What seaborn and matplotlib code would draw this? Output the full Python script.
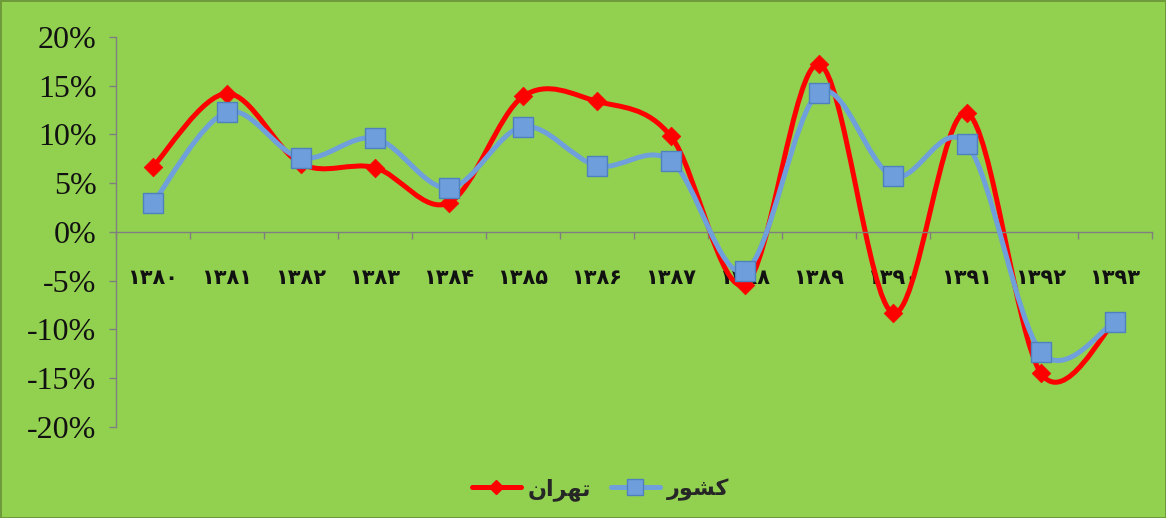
import numpy as np
import pandas as pd
import matplotlib
matplotlib.use('Agg')
import matplotlib.pyplot as plt
import seaborn as sns
from matplotlib.path import Path
from matplotlib.patches import PathPatch
from matplotlib.lines import Line2D
from matplotlib.ticker import FuncFormatter, FixedLocator

# Persian year labels and growth values (percent)
years = ['۱۳۸۰', '۱۳۸۱', '۱۳۸۲', '۱۳۸۳', '۱۳۸۴', '۱۳۸۵', '۱۳۸۶',
         '۱۳۸۷', '۱۳۸۸', '۱۳۸۹', '۱۳۹۰', '۱۳۹۱', '۱۳۹۲', '۱۳۹۳']
tehran = [6.7, 14.2, 7.0, 6.6, 3.0, 13.9, 13.4, 9.8, -5.4, 17.2, -8.3, 12.2, -14.5, -9.2]
keshvar = [3.0, 12.3, 7.6, 9.6, 4.5, 10.8, 6.8, 7.3, -4.0, 14.3, 5.7, 9.0, -12.3, -9.2]

# legend labels, shaped by hand (matplotlib does no Arabic shaping / bidi)
label_tehran = '\uFEE5\uFE8D\uFEAE\uFEEC\uFE97'   # تهران
label_keshvar = '\uFEAD\uFEEE\uFEB8\uFB90'        # کشور

df = pd.DataFrame({'pos': np.arange(len(years)), 'tehran': tehran, 'keshvar': keshvar})

bg = '#92D050'
red = '#FF0000'
blue_line = '#6FA0DB'
blue_face = '#6E9EDB'
blue_edge = '#4F81BD'
axis_gray = '#7F7F7F'


def smooth_path(x, y):
    # Excel-like smoothed line: cubic bezier with catmull-rom control points
    pts = np.column_stack([x, y]).astype(float)
    verts = [pts[0]]
    codes = [Path.MOVETO]
    n = len(pts)
    for i in range(n - 1):
        p0 = pts[i - 1] if i > 0 else pts[i]
        p1 = pts[i]
        p2 = pts[i + 1]
        p3 = pts[i + 2] if i + 2 < n else pts[i + 1]
        c1 = p1 + (p2 - p0) / 6.0
        c2 = p2 - (p3 - p1) / 6.0
        verts += [c1, c2, p2]
        codes += [Path.CURVE4] * 3
    return Path(verts, codes)


sns.set_style('white')
plt.rcParams['font.family'] = ['Liberation Serif', 'DejaVu Sans']

fig = plt.figure(figsize=(11.66, 5.18), dpi=100, facecolor=bg)
fig.patch.set_edgecolor('#6E9A3C')
fig.patch.set_linewidth(2)
ax = fig.add_axes([0.0995, 0.1757, 0.8885, 0.7529])
ax.set_facecolor(bg)

ax.add_patch(PathPatch(smooth_path(df['pos'], df['tehran']), fill=False,
                       edgecolor=red, lw=3.6, capstyle='round', joinstyle='round', zorder=2))
ax.add_patch(PathPatch(smooth_path(df['pos'], df['keshvar']), fill=False,
                       edgecolor=blue_line, lw=3.6, capstyle='round', joinstyle='round', zorder=3))

sns.scatterplot(data=df, x='pos', y='tehran', marker='D', s=90, color=red,
                edgecolor=red, linewidth=0.5, ax=ax, zorder=4, legend=False)
sns.scatterplot(data=df, x='pos', y='keshvar', marker='s', s=190, color=blue_face,
                edgecolor=blue_edge, linewidth=1.0, ax=ax, zorder=5, legend=False)

ax.set_xlim(-0.5, len(years) - 0.5)
ax.set_ylim(-20, 20)

for s in ['top', 'right']:
    ax.spines[s].set_visible(False)
ax.spines['left'].set_color(axis_gray)
ax.spines['left'].set_linewidth(1)
ax.spines['bottom'].set_position(('data', 0))
ax.spines['bottom'].set_color(axis_gray)
ax.spines['bottom'].set_linewidth(1)

ax.set_yticks(np.arange(-20, 21, 5))
ax.yaxis.set_major_formatter(FuncFormatter(lambda v, p: f'{v:.0f}%'))
ax.tick_params(axis='y', direction='out', length=5, width=1, color=axis_gray,
               labelsize=23, pad=9, left=True, labelcolor='#111111')

ax.set_xticks(df['pos'])
ax.set_xticklabels(years, family=['DejaVu Sans'], fontsize=15, fontweight='bold')
ax.xaxis.set_minor_locator(FixedLocator(np.arange(-0.5, len(years), 1.0)))
ax.tick_params(axis='x', which='major', length=0, pad=26, bottom=True, labelcolor='#111111')
ax.tick_params(axis='x', which='minor', direction='out', length=5, width=1,
               color=axis_gray, bottom=True)
ax.set_xlabel('')
ax.set_ylabel('')

handles = [
    Line2D([], [], color=red, lw=3.6, marker='D', markersize=7, markerfacecolor=red),
    Line2D([], [], color=blue_line, lw=3.6, marker='s', markersize=11,
           markerfacecolor=blue_face, markeredgecolor=blue_edge),
]
fig.legend(handles, [label_tehran, label_keshvar], loc='center', bbox_to_anchor=(0.515, 0.055),
           ncol=2, frameon=False, prop={'family': ['DejaVu Sans'], 'size': 16, 'weight': 'bold'},
           handlelength=2.2, handletextpad=0.3, columnspacing=0.9)

fig.savefig('out.png', dpi=100, facecolor=bg, edgecolor=fig.get_edgecolor())
